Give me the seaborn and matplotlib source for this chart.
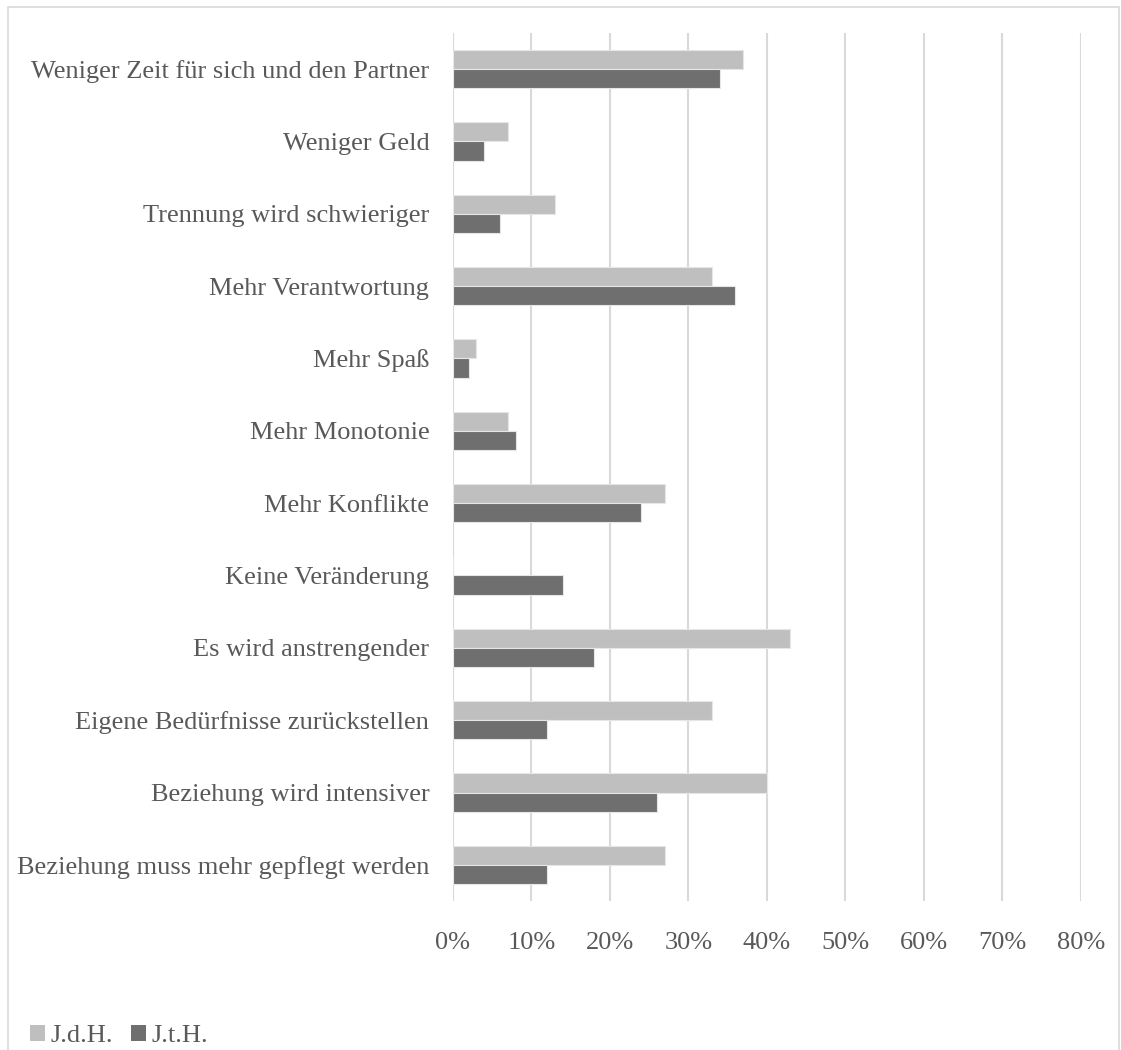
import pandas as pd
import numpy as np
import matplotlib.pyplot as plt
import seaborn as sns
from matplotlib.patches import Patch, Rectangle
from matplotlib.ticker import PercentFormatter

categories = [
    "Weniger Zeit für sich und den Partner",
    "Weniger Geld",
    "Trennung wird schwieriger",
    "Mehr Verantwortung",
    "Mehr Spaß",
    "Mehr Monotonie",
    "Mehr Konflikte",
    "Keine Veränderung",
    "Es wird anstrengender",
    "Eigene Bedürfnisse zurückstellen",
    "Beziehung wird intensiver",
    "Beziehung muss mehr gepflegt werden",
]
jdh = [37, 7, 13, 33, 3, 7, 27, 0, 43, 33, 40, 27]
jth = [34, 4, 6, 36, 2, 8, 24, 14, 18, 12, 26, 12]
series = ["J.d.H.", "J.t.H."]
colors = ["#BFBFBF", "#6F6F6F"]
xticks = [0, 10, 20, 30, 40, 50, 60, 70, 80]

df = pd.DataFrame({
    "Kategorie": categories * 2,
    "Gruppe": [series[0]] * len(categories) + [series[1]] * len(categories),
    "Wert": jdh + jth,
})

sns.set_style("white")
plt.rcParams['font.family'] = ['Liberation Serif', 'DejaVu Serif']
text_color = "#595959"
grid_color = "#D9D9D9"

fig = plt.figure(figsize=(11.21, 10.5), dpi=100)
ax = fig.add_axes([0.404, 0.1419, 0.560, 0.8267])

sns.barplot(data=df, y="Kategorie", x="Wert", hue="Gruppe", order=categories,
            hue_order=series, palette=colors, width=0.53, gap=0,
            orient="h", ax=ax, edgecolor="#E6E6E6", linewidth=0.8,
            legend=False)

ax.set_xlim(0, 80)
ax.set_ylim(len(categories) - 0.5, -0.5)
ax.set_xticks(xticks)
ax.xaxis.set_major_formatter(PercentFormatter(decimals=0))
ax.grid(axis="x", color=grid_color, linewidth=1.5)
ax.set_axisbelow(True)
for s in ax.spines.values():
    s.set_visible(False)
ax.set_xlabel("")
ax.set_ylabel("")
ax.tick_params(axis="x", length=3, width=1.5, color=grid_color, pad=19,
               labelsize=19, labelcolor=text_color)
ax.tick_params(axis="y", length=0, pad=17, labelsize=19, labelcolor=text_color)

handles = [Patch(facecolor=c, edgecolor="none") for c in colors]
fig.legend(handles, series, loc="lower left", bbox_to_anchor=(0.006, -0.02),
           ncol=2, frameon=False, fontsize=19, labelcolor=text_color,
           handlelength=0.55, handleheight=0.55, handletextpad=0.2,
           columnspacing=0.7)

fig.patches.append(Rectangle((0.007, -0.05), 0.991, 1.043, transform=fig.transFigure,
                             fill=False, edgecolor=grid_color, linewidth=1.2))

fig.savefig("out.png", dpi=100)
